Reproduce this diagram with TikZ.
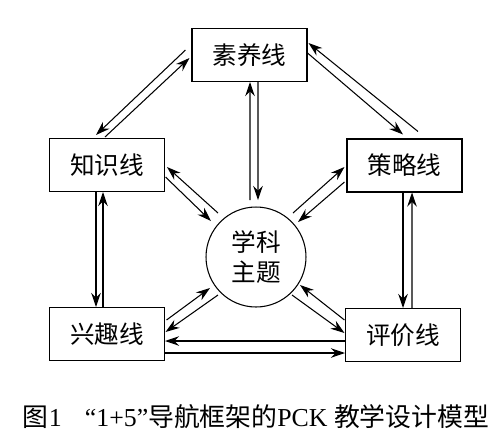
\documentclass[tikz,border=0pt]{standalone}
\usepackage{fontspec}
\setmainfont{Liberation Serif}
\newfontfamily\cjk{Noto Sans CJK SC}
\usetikzlibrary{arrows.meta,calc}
\tikzset{
  >={Stealth[length=2.8mm,width=1.9mm]},
  bx/.style={draw,minimum width=2.3cm,minimum height=1.06cm,inner sep=0pt,font=\cjk\fontsize{14}{17}\selectfont},
  ct/.style={circle,draw,minimum size=2cm,inner sep=0pt,align=center,font=\cjk\fontsize{14}{17}\selectfont},
  every picture/.style={line width=0.6pt},
}
\begin{document}
\begin{tikzpicture}[x=0.02cm,y=-0.02cm]
\useasboundingbox (0,0) rectangle (500,447);
\node[bx] (sy) at (249.5,55){素养线}; \node[bx] (zs) at (107,165){知识线}; \node[bx] (cl) at (404.5,165.5){策略线};
\node[bx] (xq) at (107,334){兴趣线}; \node[bx] (pj) at (403,335){评价线};
\node[ct] (xk) at (256,257){学科\\主题};
\node[font=\fontsize{14.7}{17}\selectfont] (tt) at (256,417){{\cjk 图}1\hspace{0.9em}“1+5”{\cjk 导航框架的}PCK {\cjk 教学设计模型}};
\begin{scope}[->]
\draw ($(sy.west)+(-6,-5)$)--($(zs.north)+(-11,-3)$); \draw ($(zs.north)+(-2,-1)$)--($(sy.west)+(-2,3)$);
\draw ($(cl.north)+(13.5,-7)$)--($(sy.east)+(1,-12)$); \draw ($(sy.east)+(0,-2)$)--($(cl.north)+(-1.5,-4)$);
\draw ($(xk)+(-6,-57)$)--($(sy.south)+(0.5,0)$); \draw ($(sy.south)+(8.5,0)$)--($(xk)+(2,-57)$);
\draw ($(xk)+(-38,-44)$)--($(zs.east)+(2,2)$); \draw ($(zs.east)+(0.5,12)$)--($(xk)+(-45,-36)$);
\draw ($(xk)+(37,-44)$)--($(cl.west)+(-2,1.5)$); \draw ($(cl.west)+(-2,16.5)$)--($(xk)+(42,-35)$);
\draw ($(xq.east)+(1.5,-14)$)--($(xk)+(-46,31)$); \draw ($(xk)+(-38,38)$)--($(xq.east)+(0.5,-2)$);
\draw ($(pj.west)+(-0.5,-15)$)--($(xk)+(44,28)$); \draw ($(xk)+(36,38)$)--($(pj.west)+(-0.5,-2)$);
\draw ($(pj.west)+(0,6)$)--($(xq.east)+(0,7)$); \draw ($(xq.east)+(0,19)$)--($(pj.west)+(0,18)$);
\draw ($(zs.south)+(-11,0)$)--($(xq.north)+(-11,0)$); \draw ($(xq.north)+(-4,0)$)--($(zs.south)+(-4,0)$);
\draw ($(cl.south)+(-1.5,0)$)--($(pj.north)+(0,0)$); \draw ($(pj.north)+(9,0)$)--($(cl.south)+(7.5,0)$);
\end{scope}
\end{tikzpicture}
\end{document}
